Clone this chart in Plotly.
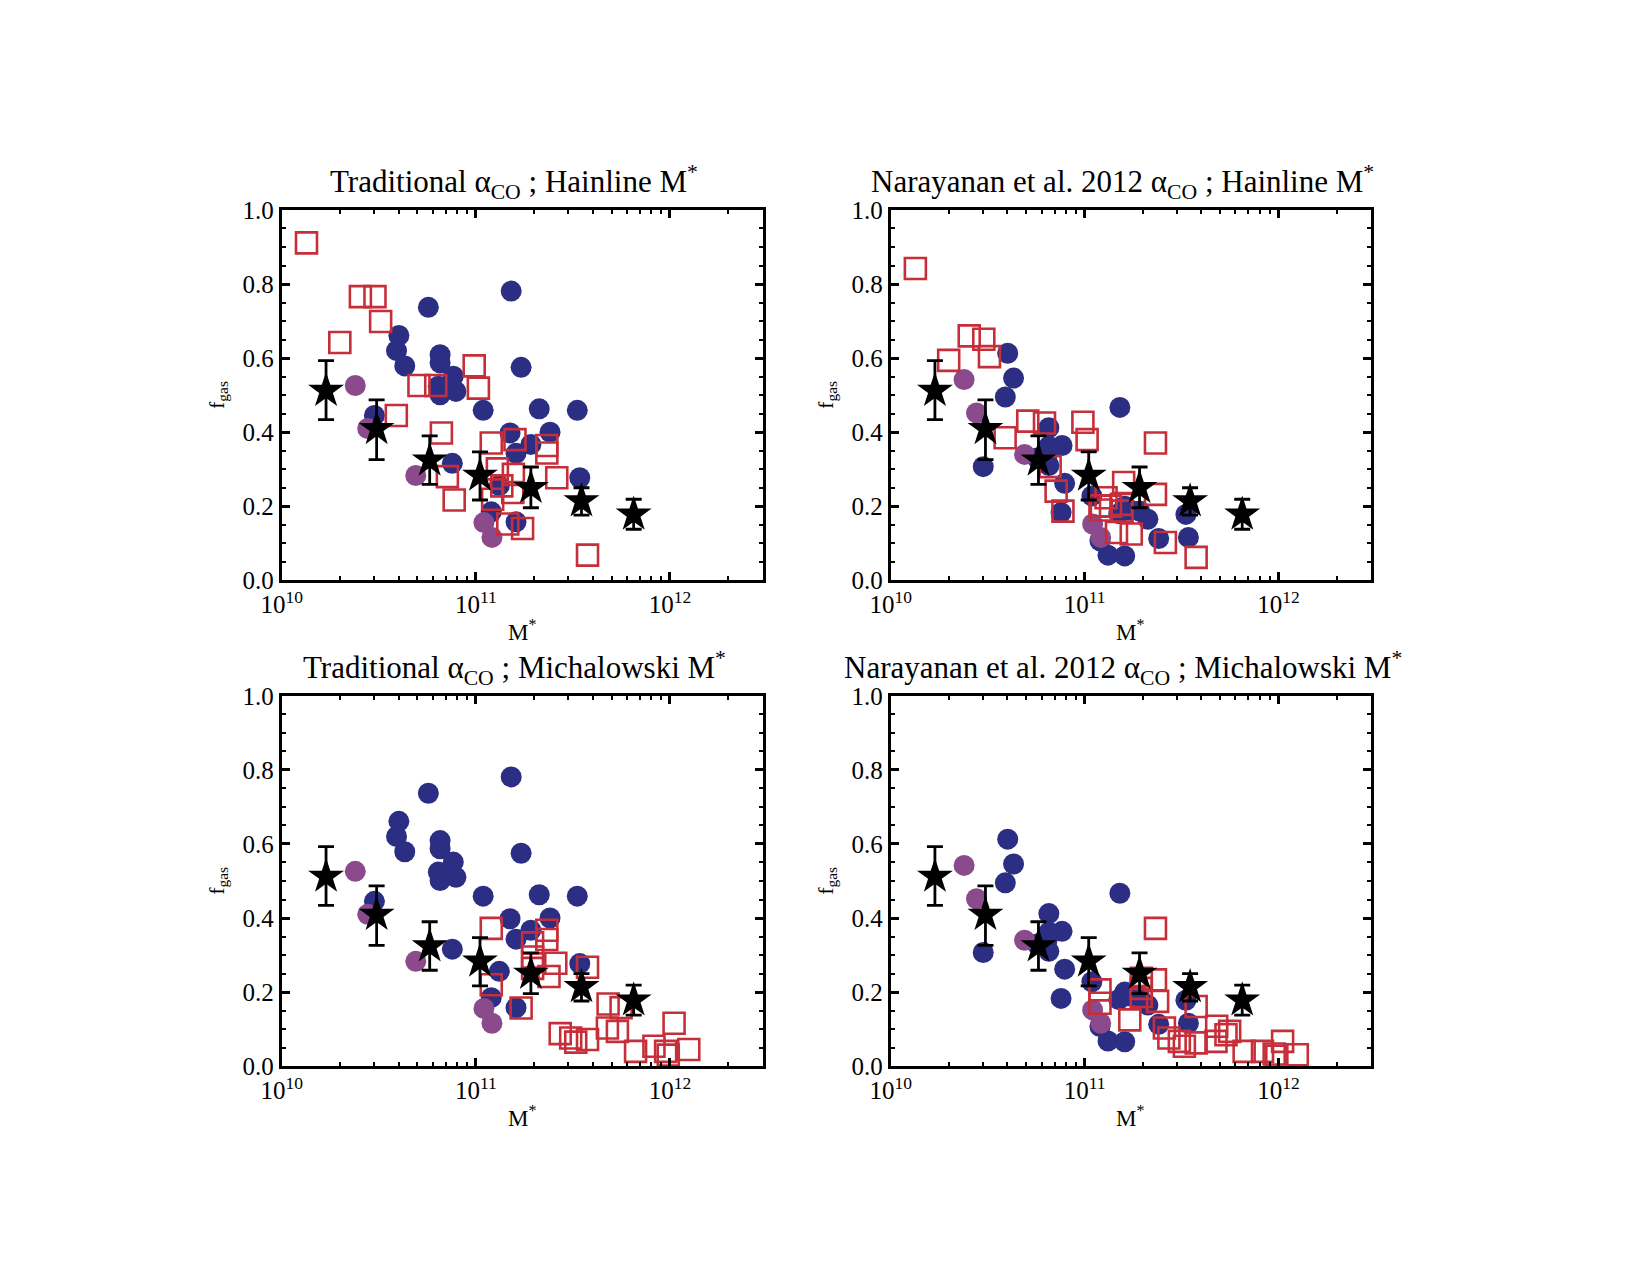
import plotly.graph_objects as go

FONT = "Liberation Serif"
BLUE = "#2c2e84"
PURPLE = "#8a4a8c"
RED = "#c62f3a"

# binned averages (black stars) - same in every panel
star_mstar = [1.69e10, 3.08e10, 5.78e10, 1.05e11, 1.92e11, 3.50e11, 6.50e11]
star_fgas = [0.512, 0.409, 0.324, 0.283, 0.250, 0.214, 0.178]
star_err_hi = [0.081, 0.078, 0.066, 0.064, 0.056, 0.036, 0.041]
star_err_lo = [0.078, 0.083, 0.065, 0.066, 0.054, 0.038, 0.040]

# blue filled circles
blue_mstar = [1.52e11, 5.69e10, 4.01e10, 3.90e10, 4.30e10, 6.54e10, 6.54e10, 7.65e10, 6.40e10,
              7.89e10, 6.54e10, 1.09e11, 3.00e10, 7.56e10, 1.71e11, 2.12e11, 3.33e11, 2.41e11,
              1.50e11, 1.92e11, 1.61e11, 3.43e11, 1.32e11, 1.20e11, 1.61e11]
blue_f_trad = [0.781, 0.737, 0.661, 0.620, 0.579, 0.609, 0.587, 0.551, 0.524,
               0.510, 0.501, 0.459, 0.445, 0.316, 0.575, 0.463, 0.459, 0.400,
               0.398, 0.367, 0.343, 0.277, 0.256, 0.185, 0.158]
blue_f_nar = [0.467, 0.330, 0.613, 0.495, 0.546, 0.412, 0.362, 0.364, 0.340,
              0.262, 0.310, 0.228, 0.307, 0.183, 0.190, 0.165, 0.178, 0.113,
              0.180, 0.187, 0.200, 0.116, 0.068, 0.107, 0.066]

# purple filled circles
purple_mstar = [2.39e10, 2.77e10, 4.90e10, 1.10e11, 1.21e11]
purple_f_trad = [0.526, 0.410, 0.283, 0.156, 0.116]
purple_f_nar = [0.542, 0.452, 0.340, 0.152, 0.116]

# red open squares, Hainline M*
sq_hain_mstar = [1.34e10, 2.54e10, 3.02e10, 3.23e10, 1.99e10, 9.80e10, 1.03e11, 5.09e10, 6.21e10,
                 3.89e10, 6.64e10, 7.13e10, 7.73e10, 1.20e11, 1.59e11, 2.32e11, 2.32e11, 1.29e11,
                 1.56e11, 2.61e11, 1.36e11, 1.55e11, 1.22e11, 1.46e11, 1.74e11, 3.76e11]
sq_hain_f_trad = [0.911, 0.766, 0.766, 0.699, 0.642, 0.579, 0.519, 0.526, 0.526,
                  0.445, 0.398, 0.280, 0.217, 0.371, 0.380, 0.364, 0.344, 0.301,
                  0.286, 0.277, 0.255, 0.237, 0.219, 0.152, 0.140, 0.068]
sq_hain_f_nar = [0.842, 0.660, 0.651, 0.604, 0.594, 0.427, 0.380, 0.430, 0.425,
                 0.385, 0.307, 0.241, 0.187, 0.201, 0.264, 0.371, 0.232, 0.223,
                 0.187, 0.102, 0.200, 0.205, 0.190, 0.129, 0.125, 0.062]

# red open squares, Michalowski M*
sq_mich_mstar = [1.20e11, 1.20e11, 1.71e11, 2.32e11, 2.32e11, 1.96e11, 1.96e11, 1.96e11, 2.58e11,
                 2.38e11, 3.76e11, 4.80e11, 5.60e11, 2.72e11, 3.08e11, 3.27e11, 3.76e11, 4.76e11,
                 5.36e11, 6.65e11, 8.27e11, 9.50e11, 9.80e11, 1.05e12, 1.25e12]
sq_mich_f_trad = [0.372, 0.220, 0.157, 0.367, 0.342, 0.333, 0.295, 0.264, 0.278,
                  0.242, 0.267, 0.168, 0.158, 0.088, 0.076, 0.065, 0.072, 0.103,
                  0.094, 0.040, 0.054, 0.040, 0.030, 0.116, 0.045]
sq_mich_f_nar = [0.206, 0.170, 0.125, 0.372, 0.233, 0.237, 0.210, 0.188, 0.103,
                 0.175, 0.161, 0.108, 0.094, 0.076, 0.067, 0.054, 0.063, 0.067,
                 0.085, 0.040, 0.040, 0.033, 0.027, 0.067, 0.031]

titles = [
    "Traditional α<sub>CO</sub> ; Hainline M<sup>*</sup>",
    "Narayanan et al. 2012 α<sub>CO</sub> ; Hainline M<sup>*</sup>",
    "Traditional α<sub>CO</sub> ; Michalowski M<sup>*</sup>",
    "Narayanan et al. 2012 α<sub>CO</sub> ; Michalowski M<sup>*</sup>",
]

# x domain, y domain for each panel (paper coords)
xdoms = [[0.1552, 0.4503], [0.5290, 0.8238], [0.1552, 0.4503], [0.5290, 0.8238]]
ydoms = [[0.5518, 0.8486], [0.5518, 0.8486], [0.1625, 0.4593], [0.1625, 0.4593]]

panels = [
    (blue_f_trad, purple_f_trad, sq_hain_mstar, sq_hain_f_trad),
    (blue_f_nar, purple_f_nar, sq_hain_mstar, sq_hain_f_nar),
    (blue_f_trad, purple_f_trad, sq_mich_mstar, sq_mich_f_trad),
    (blue_f_nar, purple_f_nar, sq_mich_mstar, sq_mich_f_nar),
]

fig = go.Figure()

for i, (bf, pf, sqx, sqf) in enumerate(panels):
    xa = "x" if i == 0 else "x%d" % (i + 1)
    ya = "y" if i == 0 else "y%d" % (i + 1)
    fig.add_trace(go.Scatter(x=blue_mstar, y=bf, mode="markers", xaxis=xa, yaxis=ya,
                             marker=dict(symbol="circle", size=21, color=BLUE, line_width=0)))
    fig.add_trace(go.Scatter(x=purple_mstar, y=pf, mode="markers", xaxis=xa, yaxis=ya,
                             marker=dict(symbol="circle", size=21, color=PURPLE, line_width=0)))
    fig.add_trace(go.Scatter(x=sqx, y=sqf, mode="markers", xaxis=xa, yaxis=ya,
                             marker=dict(symbol="square-open", size=21, color=RED,
                                         line=dict(color=RED, width=2.6))))
    fig.add_trace(go.Scatter(x=star_mstar, y=star_fgas, mode="markers", xaxis=xa, yaxis=ya,
                             marker=dict(symbol="star", size=27, color="black", line_width=0),
                             error_y=dict(type="data", symmetric=False, array=star_err_hi,
                                          arrayminus=star_err_lo, thickness=2.8, width=8,
                                          color="black")))

axis_common = dict(showline=True, linewidth=3, linecolor="black", mirror="ticks",
                   ticks="inside", ticklen=8, tickwidth=2.5, tickcolor="black",
                   showgrid=False, zeroline=False,
                   tickfont=dict(family=FONT, size=25, color="black"))

layout_axes = {}
annotations = []
for i in range(4):
    sfx = "" if i == 0 else str(i + 1)
    layout_axes["xaxis" + sfx] = dict(
        domain=xdoms[i], anchor="y" + sfx, type="log", range=[10, 12.477],
        tickmode="array", tickvals=[1e10, 1e11, 1e12],
        ticktext=["10<sup>10</sup>", "10<sup>11</sup>", "10<sup>12</sup>"],
        minor=dict(ticks="inside", ticklen=4, tickwidth=2, tickcolor="black",
                   dtick="D1", showgrid=False),
        **axis_common)
    layout_axes["yaxis" + sfx] = dict(
        domain=ydoms[i], anchor="x" + sfx, range=[0, 1], tick0=0, dtick=0.2,
        tickformat=".1f",
        minor=dict(ticks="inside", ticklen=4, tickwidth=2, tickcolor="black",
                   dtick=0.05, showgrid=False),
        **axis_common)

    xc = (xdoms[i][0] + xdoms[i][1]) / 2
    yc = (ydoms[i][0] + ydoms[i][1]) / 2
    annotations.append(dict(text=titles[i], xref="paper", yref="paper", x=xc, y=ydoms[i][1],
                            xanchor="center", yanchor="bottom", xshift=-8, yshift=4,
                            showarrow=False, font=dict(family=FONT, size=31, color="black")))
    annotations.append(dict(text="M<sup>*</sup>", xref="paper", yref="paper", x=xc, y=ydoms[i][0],
                            xanchor="center", yanchor="middle", yshift=-50,
                            showarrow=False, font=dict(family=FONT, size=23, color="black")))
    annotations.append(dict(text="f<sub>gas</sub>", xref="paper", yref="paper", x=xdoms[i][0], y=yc,
                            xanchor="center", yanchor="middle", xshift=-64, textangle=-90,
                            showarrow=False, font=dict(family=FONT, size=22, color="black")))

fig.update_layout(width=1650, height=1275, showlegend=False,
                  paper_bgcolor="white", plot_bgcolor="white",
                  margin=dict(l=0, r=0, t=0, b=0),
                  annotations=annotations, **layout_axes)

fig.write_html("out.html")
